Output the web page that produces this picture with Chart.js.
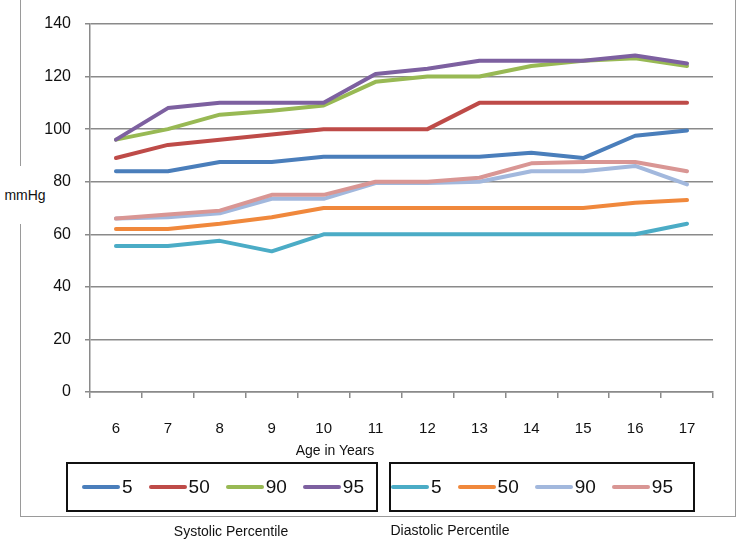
<!DOCTYPE html>
<html>
<head>
<meta charset="utf-8">
<script src="https://cdn.jsdelivr.net/npm/chart.js@4"></script>
<style>
  body { margin: 0; width: 737px; height: 544px; background: #fff; position: relative; overflow: hidden; font-family: "Liberation Sans", Arial, sans-serif; }
  #marco { position: absolute; left: 20px; top: -2px; width: 714px; height: 517px; border: 1.5px solid #9a9a9a; }
  #grafica { position: absolute; left: 0; top: 0; }
  #unidad { position: absolute; left: 0; top: 166px; height: 58px; width: 50px; background: #fff; display: flex; align-items: center; justify-content: center; font-size: 14px; color: #111; }
  .texto { position: absolute; color: #111; font-size: 14px; white-space: nowrap; transform: translate(-50%, -50%); }
  .caja { position: absolute; top: 462px; height: 50px; border: 2px solid #111; display: flex; align-items: center; gap: 16px; box-sizing: border-box; }
  .item { display: flex; align-items: center; gap: 2px; font-size: 19px; color: #111; }
  .muestra { width: 38px; height: 4px; border-radius: 2px; }
</style>
</head>
<body>
<div id="marco"></div>
<canvas id="grafica" width="737" height="544"></canvas>
<div id="unidad">mmHg</div>
<div class="texto" style="left:335px; top:450px;">Age in Years</div>
<div class="caja" id="caja_sistolica" style="left:66px; width:312px; padding-left:14px;"></div>
<div class="caja" id="caja_diastolica" style="left:389px; width:306px; padding-left:0px;"></div>
<div class="texto" style="left:231px; top:531px;">Systolic Percentile</div>
<div class="texto" style="left:450px; top:530px;">Diastolic Percentile</div>
<script>
// datos
var edades = ["6", "7", "8", "9", "10", "11", "12", "13", "14", "15", "16", "17"]
var percentiles = ["5", "50", "90", "95"]

var sistolica_5  = [84, 84, 87.5, 87.5, 89.5, 89.5, 89.5, 89.5, 91, 89, 97.5, 99.5]
var sistolica_50 = [89, 94, 96, 98, 100, 100, 100, 110, 110, 110, 110, 110]
var sistolica_90 = [96, 100, 105.5, 107, 109, 118, 120, 120, 124, 126, 127, 124]
var sistolica_95 = [96, 108, 110, 110, 110, 121, 123, 126, 126, 126, 128, 125]

var diastolica_5  = [55.5, 55.5, 57.5, 53.5, 60, 60, 60, 60, 60, 60, 60, 64]
var diastolica_50 = [62, 62, 64, 66.5, 70, 70, 70, 70, 70, 70, 72, 73]
var diastolica_90 = [66, 66.5, 68, 73.5, 73.5, 79.5, 79.5, 80, 84, 84, 86, 79]
var diastolica_95 = [66, 67.5, 69, 75, 75, 80, 80, 81.5, 87, 87.5, 87.5, 84]

var colores_sistolica = ['#4a7ebb', '#be4b48', '#98b954', '#7d60a0']
var colores_diastolica = ['#4bacc6', '#f0883c', '#a2b8dd', '#d99694']

var y_min = 0, y_max = 140, y_paso = 20

var series = [
    { nombre: percentiles[0], valores: sistolica_5, color: colores_sistolica[0] },
    { nombre: percentiles[1], valores: sistolica_50, color: colores_sistolica[1] },
    { nombre: percentiles[2], valores: sistolica_90, color: colores_sistolica[2] },
    { nombre: percentiles[3], valores: sistolica_95, color: colores_sistolica[3] },
    { nombre: percentiles[0], valores: diastolica_5, color: colores_diastolica[0] },
    { nombre: percentiles[1], valores: diastolica_50, color: colores_diastolica[1] },
    { nombre: percentiles[2], valores: diastolica_90, color: colores_diastolica[2] },
    { nombre: percentiles[3], valores: diastolica_95, color: colores_diastolica[3] }
]

function crear_leyenda(caja, lista) {
    lista.forEach(s => {
        var item = document.createElement("div")
        item.className = "item"
        var muestra = document.createElement("div")
        muestra.className = "muestra"
        muestra.style.background = s.color
        var texto = document.createElement("span")
        texto.innerText = s.nombre
        item.appendChild(muestra)
        item.appendChild(texto)
        caja.appendChild(item)
    })
}
crear_leyenda(document.getElementById("caja_sistolica"), series.slice(0, 4))
crear_leyenda(document.getElementById("caja_diastolica"), series.slice(4))

var gris = '#8a8a8a'
var conjuntos = series.map((s, i) => ({
    label: s.nombre,
    data: s.valores,
    borderColor: s.color,
    backgroundColor: s.color,
    borderWidth: 4,
    pointRadius: 0,
    tension: 0,
    borderCapStyle: 'round',
    borderJoinStyle: 'round',
    order: -i
}))

var grafica = new Chart(document.getElementById("grafica"), {
    type: 'line',
    data: { labels: edades, datasets: conjuntos },
    options: {
        responsive: false,
        animation: false,
        layout: { padding: { top: 24, right: 24, left: 0, bottom: 92 } },
        plugins: { legend: { display: false }, tooltip: { enabled: false } },
        scales: {
            x: {
                offset: true,
                grid: { drawOnChartArea: false, drawTicks: true, tickLength: 6, color: gris, lineWidth: 1.5, offset: true },
                border: { color: gris, width: 1.5 },
                ticks: { color: '#111', font: { size: 15, family: 'Liberation Sans' }, padding: 22, maxRotation: 0 },
                afterFit: function (eje) { eje.height = 60 }
            },
            y: {
                min: y_min, max: y_max,
                grid: { color: gris, lineWidth: 1.5, tickLength: 5 },
                border: { color: gris, width: 1.5 },
                ticks: { stepSize: y_paso, color: '#111', font: { size: 16, family: 'Liberation Sans' }, padding: 14 },
                afterFit: function (eje) { eje.width = 90 }
            }
        }
    }
})
</script>
</body>
</html>
